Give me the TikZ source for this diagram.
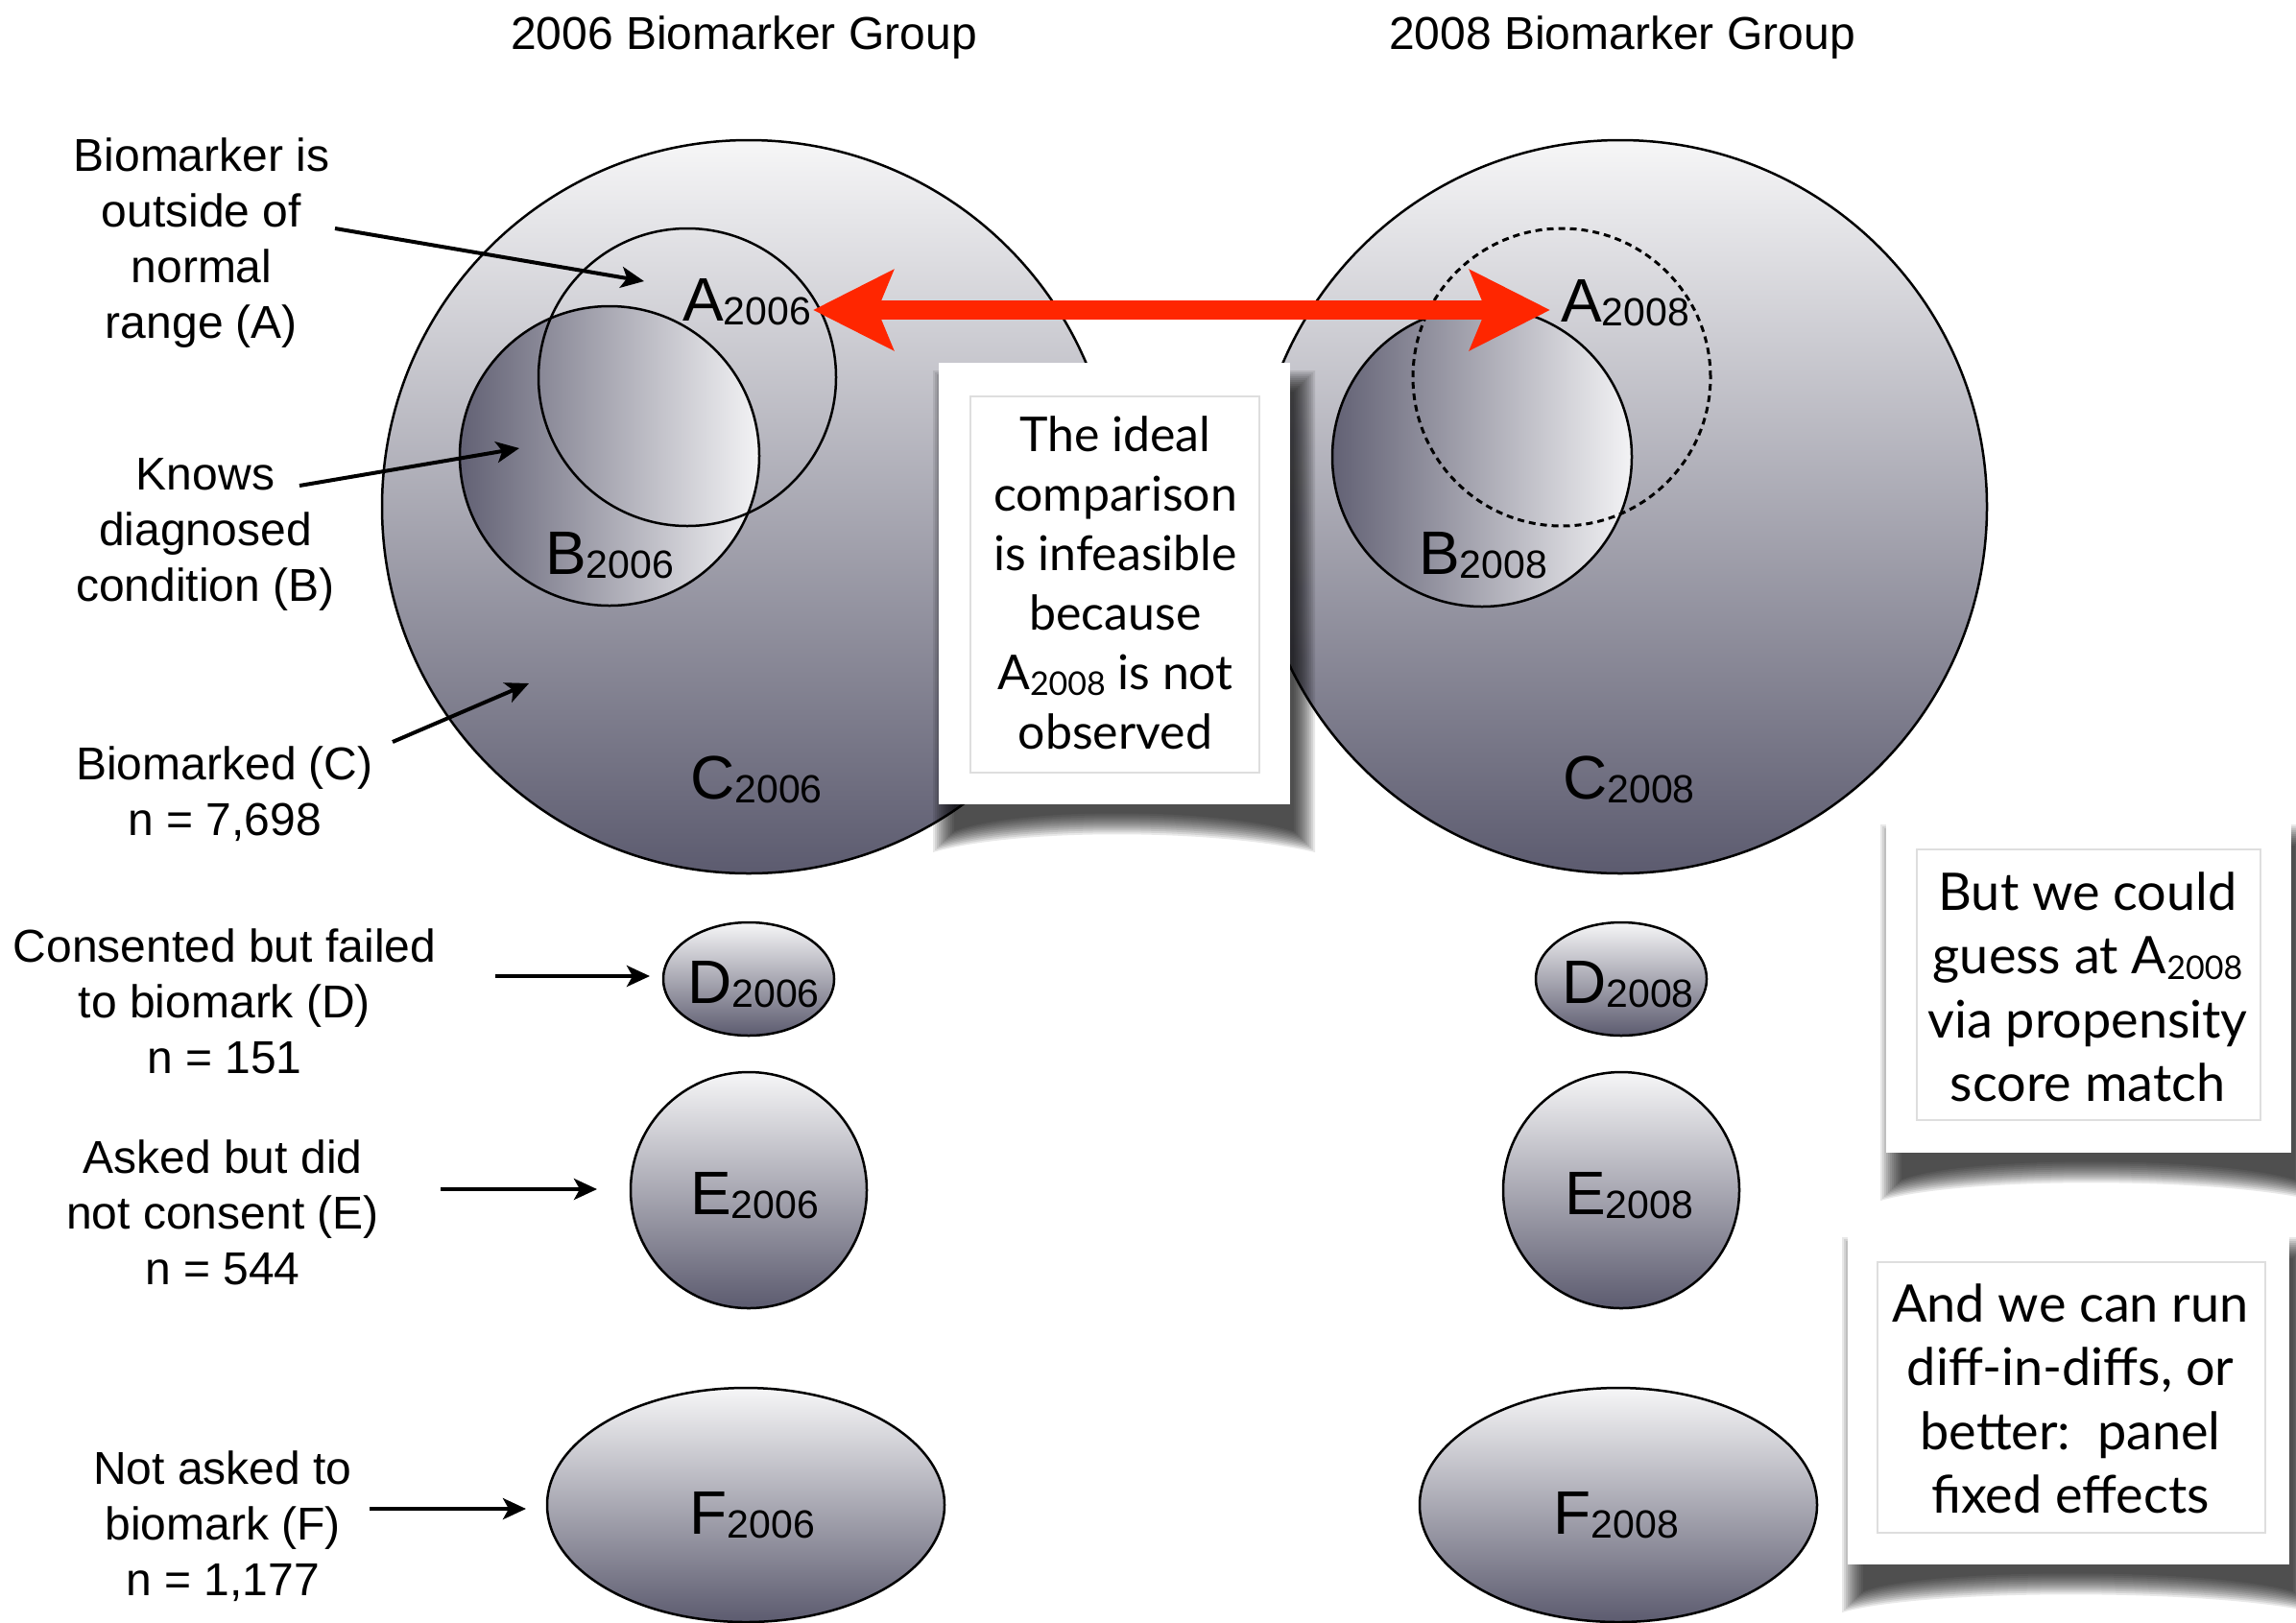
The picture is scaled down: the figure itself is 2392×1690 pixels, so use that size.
\documentclass[tikz,border=0pt]{standalone}
\usepackage{fontspec}
\setmainfont{Liberation Sans}
\newfontfamily\gillfont{Lato}
\usetikzlibrary{arrows.meta}
\definecolor{ctop}{RGB}{246,246,247}
\definecolor{cbot}{RGB}{92,91,111}
\definecolor{bdark}{RGB}{98,97,116}
\definecolor{blight}{RGB}{243,243,245}
\definecolor{redarrow}{RGB}{255,38,0}
\definecolor{innerline}{RGB}{222,222,222}
\newcommand{\hsub}[2]{{\fontsize{64}{70}\selectfont #1\fontsize{41}{44}\selectfont\raisebox{-4pt}{#2}}}
\newcommand{\gsub}[2]{#1{\fontsize{34}{36}\selectfont\raisebox{-6pt}{#2}}}
\newcommand{\boxshadow}[4]{%
  \foreach \e in {0,2,...,22}{%
    \fill[black, opacity=0.09]
      (#1+16-\e,#2+30-\e) -- (#3+4+\e,#2+30-\e) -- (#3+4+\e,#4+28+\e)
      .. controls (#3-80,#4+3+\e) and (#1+80,#4+3+\e) .. (#1+16-\e,#4+28+\e) -- cycle;
  }}
\begin{document}
\begin{tikzpicture}[x=1pt,y=-1pt,
  lbl/.style={font=\fontsize{48}{58}\selectfont, align=center, anchor=north, inner sep=0pt},
  title/.style={font=\fontsize{48}{58}\selectfont, anchor=base, inner sep=0pt},
  setlbl/.style={anchor=base, inner sep=0pt},
  bigset/.style={draw=black, line width=2.5pt, top color=ctop, bottom color=cbot},
  subset/.style={draw=black, line width=2.5pt, left color=bdark, right color=blight},
  ringset/.style={draw=black, line width=2.5pt},
  dotset/.style={draw=black, line width=3pt, dash pattern=on 7pt off 5pt},
  blob/.style={draw=black, line width=2.5pt, top color=ctop, bottom color=cbot},
  pointer/.style={draw=black, line width=4pt, -{Stealth[length=24pt, width=22pt, inset=6pt]}},
  bigarrow/.style={draw=redarrow, line width=20pt,
    {Stealth[length=83pt, width=82pt, inset=16pt]}-{Stealth[length=83pt, width=82pt, inset=16pt]}},
  outerbox/.style={fill=white, draw=none, inner sep=0pt},
  innerbox/.style={draw=innerline, line width=2pt, fill=white, inner sep=0pt},
  boxtext/.style={font=\gillfont\fontsize{50}{62}\selectfont, align=center, anchor=north, inner sep=0pt},
  boxtextb/.style={font=\gillfont\fontsize{54}{66.5}\selectfont, align=center, anchor=north, inner sep=0pt}
]
\useasboundingbox (0,0) rectangle (2392,1690);
\fill[white] (0,0) rectangle (2392,1690);

% titles
\node[title] (t06) at (775,51) {2006 Biomarker Group};
\node[title] (t08) at (1690,51) {2008 Biomarker Group};

% big sets
\path[bigset] (780,528) circle [radius=382pt];
\path[bigset] (1688,528) circle [radius=382pt];
\path[subset] (635,475) circle [radius=156pt];
\path[subset] (1544,476) circle [radius=156pt];
\path[ringset] (716,393) circle [radius=155pt];
\path[dotset] (1627,393) circle [radius=155pt];

% small sets
\path[blob] (780,1020) ellipse [x radius=89pt, y radius=59pt];
\path[blob] (1689,1020) ellipse [x radius=89pt, y radius=59pt];
\path[blob] (780,1240) circle [radius=123pt];
\path[blob] (1689,1240) circle [radius=123pt];
\path[blob] (777,1568) ellipse [x radius=207pt, y radius=122pt];
\path[blob] (1686,1568) ellipse [x radius=207pt, y radius=122pt];

% set labels
\node[setlbl] (A06) at (778,334) {\hsub{A}{2006}};
\node[setlbl] (B06) at (635,598) {\hsub{B}{2006}};
\node[setlbl] (C06) at (788,832) {\hsub{C}{2006}};
\node[setlbl] (A08) at (1693,335) {\hsub{A}{2008}};
\node[setlbl] (B08) at (1545,598) {\hsub{B}{2008}};
\node[setlbl] (C08) at (1697,832) {\hsub{C}{2008}};
\node[setlbl] (D06) at (785,1045) {\hsub{D}{2006}};
\node[setlbl] (D08) at (1696,1045) {\hsub{D}{2008}};
\node[setlbl] (E06) at (786,1265) {\hsub{E}{2006}};
\node[setlbl] (E08) at (1697,1265) {\hsub{E}{2008}};
\node[setlbl] (F06) at (784,1598) {\hsub{F}{2006}};
\node[setlbl] (F08) at (1684,1598) {\hsub{F}{2008}};

% left labels
\node[lbl] (labA) at (210,137.4) {\strut Biomarker is\\ outside of\\ normal\\ range (A)};
\node[lbl] (labB) at (214,469.4) {\strut Knows\\ diagnosed\\ condition (B)};
\node[lbl] (labC) at (234,771.4) {\strut Biomarked (C)\\ n = 7,698};
\node[lbl] (labD) at (234,961.4) {\strut Consented but failed\\ to biomark (D)\\ n = 151};
\node[lbl] (labE) at (232,1181.4) {\strut Asked but did\\ not consent (E)\\ n = 544};
\node[lbl] (labF) at (232,1505.4) {\strut Not asked to\\ biomark (F)\\ n = 1,177};

% pointers
\coordinate (aAs) at (349,238); \coordinate (aAe) at (671,293);
\coordinate (aBs) at (312,506); \coordinate (aBe) at (541,467);
\coordinate (aCs) at (409,773); \coordinate (aCe) at (551,712);
\coordinate (aDs) at (516,1017); \coordinate (aDe) at (677,1017);
\coordinate (aEs) at (459,1239); \coordinate (aEe) at (622,1239);
\coordinate (aFs) at (385,1572); \coordinate (aFe) at (548,1572);
\draw[pointer] (aAs) -- (aAe);
\draw[pointer] (aBs) -- (aBe);
\draw[pointer] (aCs) -- (aCe);
\draw[pointer] (aDs) -- (aDe);
\draw[pointer] (aEs) -- (aEe);
\draw[pointer] (aFs) -- (aFe);

% box 1
\boxshadow{978}{378}{1344}{838}
\node[outerbox, minimum width=366pt, minimum height=460pt] (box1) at (1161,608) {};
\node[innerbox, minimum width=301pt, minimum height=392pt] (box1in) at (1161.5,609) {};
\node[boxtext] (box1txt) at (1162,426.6) {\strut The ideal\\ comparison\\ is infeasible\\ because\\ \gsub{A}{2008} is not\\ observed};

% red double arrow
\coordinate (rL) at (847,323);
\coordinate (rR) at (1615,323);
\draw[bigarrow] (rL) -- (rR);

% box 2
\boxshadow{1965}{851}{2387}{1201}
\node[outerbox, minimum width=422pt, minimum height=350pt] (box2) at (2176,1026) {};
\node[innerbox, minimum width=358pt, minimum height=282pt] (box2in) at (2176,1026) {};
\node[boxtextb] (box2txt) at (2175,901.4) {\strut But we could\\ guess at \gsub{A}{2008}\\ via propensity\\ score match};

% box 3
\boxshadow{1925}{1281}{2385}{1630}
\node[outerbox, minimum width=460pt, minimum height=349pt] (box3) at (2155,1455.5) {};
\node[innerbox, minimum width=404pt, minimum height=282pt] (box3in) at (2158,1456) {};
\node[boxtextb] (box3txt) at (2157,1330.4) {\strut And we can run\\ diff-in-diffs, or\\ better:\ \ panel\\ fixed effects};
\end{tikzpicture}
\end{document}
